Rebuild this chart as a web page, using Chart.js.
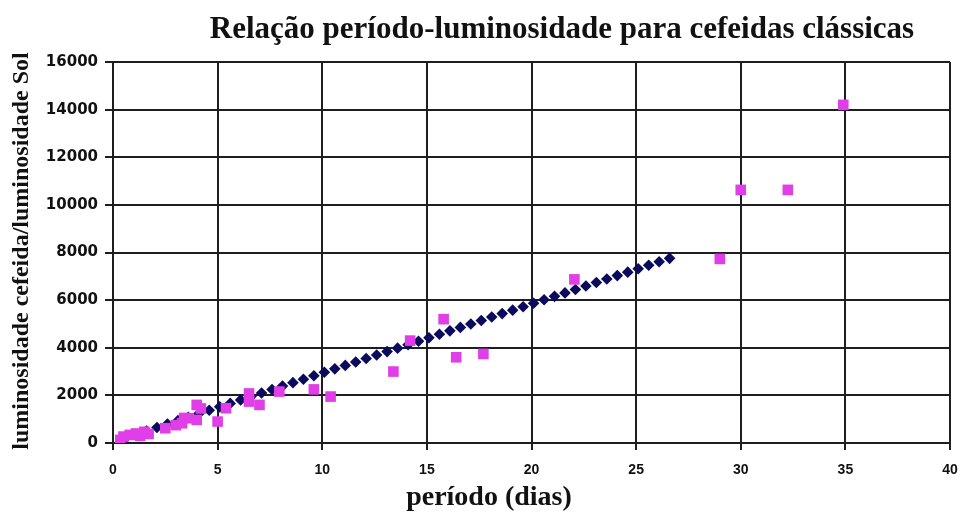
<!DOCTYPE html>
<html>
<head>
<meta charset="utf-8">
<script src="https://cdn.jsdelivr.net/npm/chart.js@4.4.1/dist/chart.umd.min.js"></script>
<style>
  html, body { margin: 0; padding: 0; background: #ffffff; }
  #wrap { width: 964px; height: 513px; }
</style>
</head>
<body>
<div id="wrap"><canvas id="c" width="964" height="513"></canvas></div>
<script>
// ---- Data ----
const chartTitle = "Relação período-luminosidade para cefeidas clássicas";
const xAxisTitle = "período (dias)";
const yAxisTitle = "luminosidade cefeida/luminosidade Sol";

const xTicks = [0, 5, 10, 15, 20, 25, 30, 35, 40];
const yTicks = [0, 2000, 4000, 6000, 8000, 10000, 12000, 14000, 16000];

// observed cepheids (pink squares): period (days), luminosity
const obsPeriod = [0.35, 0.5, 0.8, 1.1, 1.3, 1.5, 1.7, 2.5, 3.0, 3.3, 3.4, 3.6, 4.0, 4.0, 4.2,
                   5.0, 5.4, 6.5, 6.5, 7.0, 7.95, 9.6, 10.4, 13.4, 14.2, 15.8, 16.4, 17.7,
                   22.05, 29.0, 30.0, 32.25, 34.9];
const obsLum    = [130, 270, 340, 400, 300, 470, 380, 620, 750, 830, 1050, 1040, 1600, 970, 1450,
                   900, 1460, 2080, 1740, 1600, 2160, 2250, 1950, 3000, 4300, 5200, 3600, 3740,
                   6870, 7730, 10630, 10630, 14200];

// fitted relation (navy diamonds): period (days), luminosity
const fitPeriod = [0.6, 1.1, 1.6, 2.1, 2.6, 3.1, 3.6, 4.1, 4.6, 5.1, 5.6, 6.1, 6.6, 7.1, 7.6, 8.1,
                   8.6, 9.1, 9.6, 10.1, 10.6, 11.1, 11.6, 12.1, 12.6, 13.1, 13.6, 14.1, 14.6, 15.1,
                   15.6, 16.1, 16.6, 17.1, 17.6, 18.1, 18.6, 19.1, 19.6, 20.1, 20.6, 21.1, 21.6,
                   22.1, 22.6, 23.1, 23.6, 24.1, 24.6, 25.1, 25.6, 26.1, 26.6];
const fitLum    = [214, 359, 504, 649, 794, 939, 1084, 1229, 1374, 1519, 1664, 1809, 1954, 2099,
                   2244, 2389, 2534, 2679, 2824, 2969, 3114, 3259, 3404, 3549, 3694, 3839, 3984,
                   4129, 4274, 4419, 4564, 4709, 4854, 4999, 5144, 5289, 5434, 5579, 5724, 5869,
                   6014, 6159, 6304, 6449, 6594, 6739, 6884, 7029, 7174, 7319, 7464, 7609, 7754];

// ---- Build datasets ----
const obsPoints = obsPeriod.map((x, i) => ({ x: x, y: obsLum[i] }));
const fitPoints = fitPeriod.map((x, i) => ({ x: x, y: fitLum[i] }));

const titlesPlugin = {
  id: 'titles',
  afterDraw(chart) {
    const ctx = chart.ctx;
    ctx.save();
    ctx.fillStyle = '#111111';
    ctx.textAlign = 'center';
    ctx.textBaseline = 'alphabetic';
    ctx.font = 'bold 31px "Liberation Serif", "DejaVu Serif", serif';
    ctx.fillText(chartTitle, 562, 38);
    ctx.font = 'bold 28px "Liberation Serif", "DejaVu Serif", serif';
    ctx.fillText(xAxisTitle, 489, 505);
    ctx.translate(28, 251);
    ctx.rotate(-Math.PI / 2);
    ctx.font = 'bold 24px "Liberation Serif", "DejaVu Serif", serif';
    ctx.fillText(yAxisTitle, 0, 0);
    ctx.restore();
  }
};

const bgPlugin = {
  id: 'bg',
  beforeDraw(chart) {
    const ctx = chart.ctx;
    ctx.save();
    ctx.fillStyle = '#ffffff';
    ctx.fillRect(0, 0, chart.width, chart.height);
    ctx.restore();
  }
};

new Chart(document.getElementById('c'), {
  type: 'scatter',
  data: {
    datasets: [
      {
        label: 'observado',
        data: obsPoints,
        pointStyle: 'rect',
        pointRadius: 7.5,
        pointHoverRadius: 7.5,
        backgroundColor: '#e03ee6',
        borderColor: '#e03ee6',
        borderWidth: 0
      },
      {
        label: 'ajuste',
        data: fitPoints,
        pointStyle: 'rectRot',
        pointRadius: 5.8,
        pointHoverRadius: 5.8,
        backgroundColor: '#0b0b5e',
        borderColor: '#0b0b5e',
        borderWidth: 0
      }
    ]
  },
  options: {
    responsive: false,
    animation: false,
    events: [],
    layout: { padding: { left: 0, right: 14, top: 62, bottom: 0 } },
    plugins: {
      legend: { display: false },
      tooltip: { enabled: false },
      title: { display: false }
    },
    scales: {
      x: {
        type: 'linear',
        min: 0,
        max: 40,
        afterBuildTicks: s => { s.ticks = xTicks.map(v => ({ value: v })); },
        afterFit: s => { s.height = 70; s.paddingRight = 8; s.paddingLeft = 0; },
        ticks: {
          padding: 12,
          color: '#111111',
          font: { family: '"Liberation Sans", Arial, sans-serif', size: 14, weight: 'bold' }
        },
        grid: {
          color: '#1e1e1e',
          lineWidth: 2,
          tickLength: 7,
          tickColor: '#1e1e1e'
        },
        border: { display: true, color: '#1e1e1e', width: 2 }
      },
      y: {
        type: 'linear',
        min: 0,
        max: 16000,
        afterBuildTicks: s => { s.ticks = yTicks.map(v => ({ value: v })); },
        afterFit: s => { s.width = 113; },
        ticks: {
          padding: 7,
          color: '#111111',
          font: { family: '"DejaVu Sans", sans-serif', size: 15, weight: 'bold' },
          callback: v => String(v)
        },
        grid: {
          color: '#1e1e1e',
          lineWidth: 2,
          tickLength: 8,
          tickColor: '#1e1e1e'
        },
        border: { display: true, color: '#1e1e1e', width: 2 }
      }
    }
  },
  plugins: [bgPlugin, titlesPlugin]
});
</script>
</body>
</html>
